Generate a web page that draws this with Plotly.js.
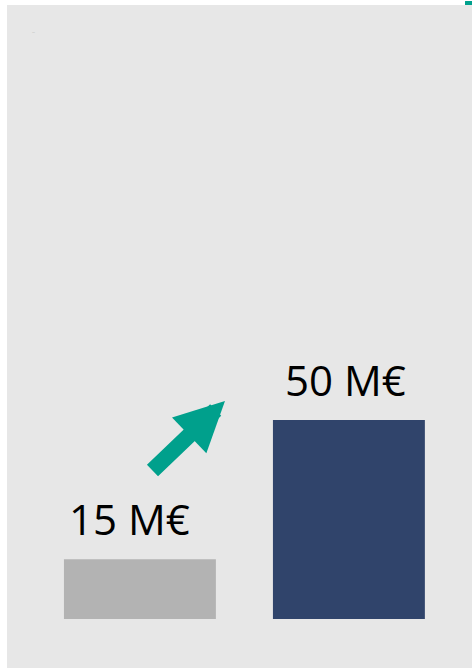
<!DOCTYPE html>
<html>
<head>
<meta charset="utf-8">
<script src="https://cdn.plot.ly/plotly-3.0.1.min.js"></script>
<style>html,body{margin:0;padding:0;background:#fff;}#chart{width:472px;height:669px;}</style>
</head>
<body>
<div id="chart"></div>
<script>
const categories = ["Avant", "Après"];
const values = [15, 50];
const valueLabels = ["15 M€", "50 M€"];
const barColors = ["#b3b3b3", "#30446b"];

const trace = {
  type: "bar",
  x: categories,
  y: values,
  width: 0.727,
  marker: {color: barColors, line: {width: 0}},
  hoverinfo: "none",
  showlegend: false
};

const labelShifts = [-10, -3];
const annotations = categories.map((c, i) => ({
  x: c, y: values[i], xref: "x", yref: "y",
  text: valueLabels[i], showarrow: false,
  yanchor: "bottom", xanchor: "center",
  xshift: labelShifts[i], yshift: 10,
  font: {family: "Open Sans, sans-serif", size: 42, color: "#000000"}
}));

annotations.push({
  x: 0.407, y: 54.8, xref: "x", yref: "y",
  ax: -74, ay: 71, axref: "pixel", ayref: "pixel",
  text: "", showarrow: true,
  arrowhead: 2, arrowwidth: 16, arrowsize: 0.62,
  arrowcolor: "#00a08c", standoff: 0
});

annotations.push({
  x: 0.05, y: 0.965, xref: "paper", yref: "paper",
  text: "—", showarrow: false,
  font: {size: 3, color: "#aaaaaa"}
});

const layout = {
  width: 472, height: 669,
  margin: {l: 7, r: 0, t: 5, b: 1, pad: 0},
  paper_bgcolor: "#ffffff",
  plot_bgcolor: "#e7e7e7",
  xaxis: {type: "category", range: [-0.636, 1.589], visible: false, fixedrange: true},
  yaxis: {range: [-12.3, 154.3], visible: false, fixedrange: true},
  annotations: annotations,
  shapes: [{
    type: "rect", xref: "paper", yref: "paper",
    x0: 0.985, x1: 1.0, y0: 1.0, y1: 1.006,
    fillcolor: "#00a08c", line: {width: 0}
  }]
};

Plotly.newPlot("chart", [trace], layout, {displayModeBar: false, staticPlot: true});
</script>
</body>
</html>
